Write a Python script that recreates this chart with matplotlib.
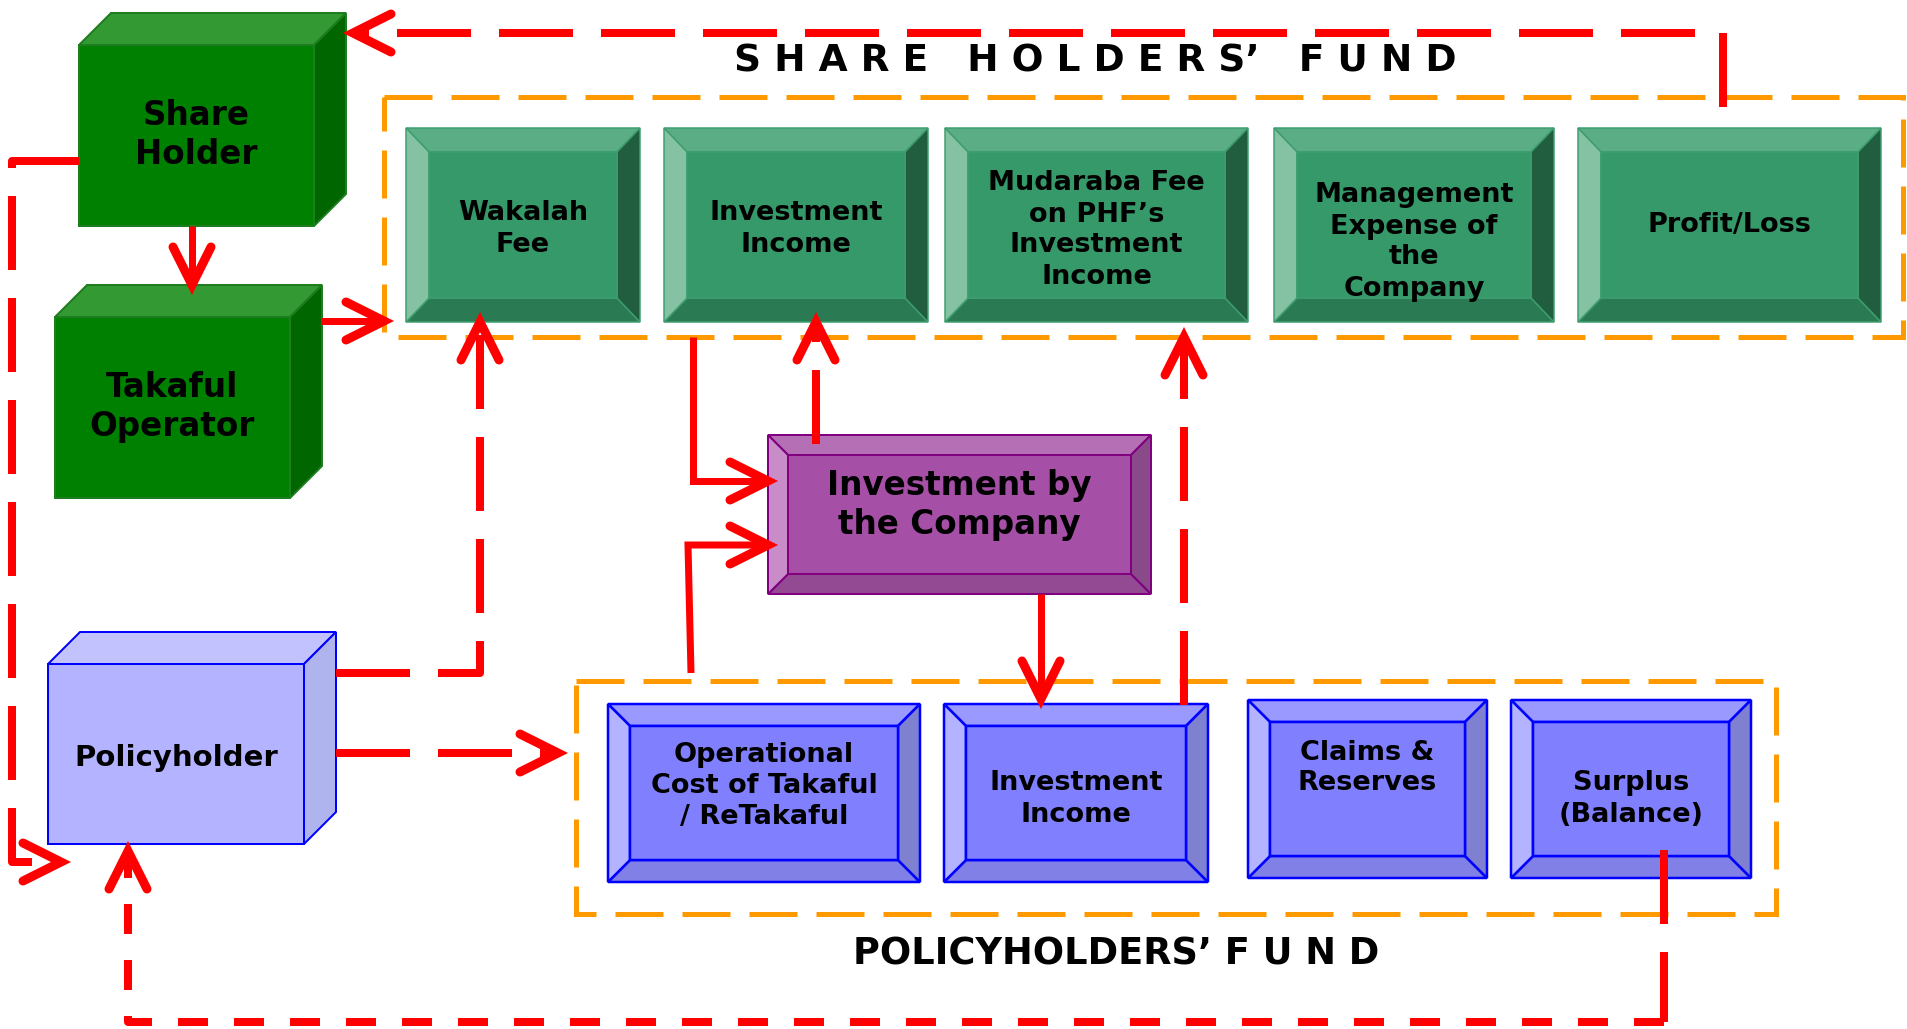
import numpy as np
import matplotlib.pyplot as plt
from matplotlib.patches import Polygon, Rectangle

plt.rcParams['font.family'] = ['DejaVu Sans']
plt.rcParams['lines.scale_dashes'] = False

W, H = 1907, 1029
PX = 0.72  # points per pixel at dpi 100

# text content
cube_labels = ["Share\nHolder", "Takaful\nOperator", "Policyholder"]
shf_labels = ["Wakalah\nFee", "Investment\nIncome", "Mudaraba Fee\non PHF’s\nInvestment\nIncome",
              "Management\nExpense of\nthe\nCompany", "Profit/Loss"]
phf_labels = ["Operational\nCost of Takaful\n/ ReTakaful", "Investment\nIncome", "Claims &\nReserves",
              "Surplus\n(Balance)"]
centre_label = "Investment by\nthe Company"
shf_title = "S H A R E   H O L D E R S’   F U N D"
phf_title = "POLICYHOLDERS’ F U N D"

# layout (pixels, y down)
cube_boxes = [(79, 45, 314, 226), (55, 317, 290, 498), (48, 664, 304, 844)]
cube_text_y = [135, 407, 758]
cube_fonts = [23.5, 23.5, 21]
cube_depth = 32
green_cube = ("#008000", "#339933", "#006600", "#1e7d1e")
blue_cube = ("#b3b3ff", "#c2c2ff", "#b0b4ee", "#0000ff")
cube_styles = [green_cube, green_cube, blue_cube]

shf_x = [(406, 640), (664, 928), (945, 1248), (1274, 1554), (1578, 1881)]
shf_y = (128, 322)
shf_text_y = [229, 229, 230, 242, 225]

phf_boxes = [(608, 704, 920, 882), (944, 704, 1208, 882), (1248, 700, 1487, 878), (1511, 700, 1751, 878)]
phf_text_y = [786, 799, 768, 799]

centre_box = (768, 435, 1151, 594)

green_bevel = dict(face="#35996a", top="#5aad84", bottom="#2a7a53", left="#85c1a3", right="#215e40", edge="#3d9e6e")
blue_bevel = dict(face="#8080ff", top="#9999ff", bottom="#8080e6", left="#b3b3ff", right="#8080d0", edge="#0000ff")
purple_bevel = dict(face="#a64fa6", top="#b570b5", bottom="#934a93", left="#c88cc8", right="#8a4a8a", edge="#800080")

solid_paths = [
    [(192, 226), (192, 285)],
    [(321, 321), (384, 321)],
    [(693, 337), (693, 481), (768, 481)],
    [(691, 673), (688, 545), (768, 545)],
    [(1041, 594), (1041, 699)],
]
dashed_paths = [
    [(1723, 107), (1723, 33), (353, 33)],
    [(79, 161), (12, 161), (12, 862), (61, 862)],
    [(336, 673), (480, 673), (480, 322)],
    [(336, 753), (558, 753)],
    [(816, 444), (816, 322)],
    [(1184, 705), (1184, 337)],
]
red = "#ff0000"
orange = "#ff9900"

fig = plt.figure(figsize=(W / 100, H / 100), dpi=100)
ax = fig.add_axes([0, 0, 1, 1])
ax.set_xlim(0, W)
ax.set_ylim(H, 0)
ax.axis("off")


def cube(x0, y0, x1, y1, d, cols):
    front, top, side, edge = cols
    kw = dict(edgecolor=edge, linewidth=2 * PX, joinstyle="miter", zorder=2)
    ax.add_patch(Polygon([(x0, y0), (x1, y0), (x1 + d, y0 - d), (x0 + d, y0 - d)], facecolor=top, **kw))
    ax.add_patch(Polygon([(x1, y0), (x1 + d, y0 - d), (x1 + d, y1 - d), (x1, y1)], facecolor=side, **kw))
    ax.add_patch(Rectangle((x0, y0), x1 - x0, y1 - y0, facecolor=front, **kw))


def bevel(x0, y0, x1, y1, bx, by, st, lw=1.5):
    ix0, iy0, ix1, iy1 = x0 + bx, y0 + by, x1 - bx, y1 - by
    kw = dict(edgecolor=st["edge"], linewidth=lw * PX, zorder=2)
    ax.add_patch(Polygon([(x0, y0), (x1, y0), (ix1, iy0), (ix0, iy0)], facecolor=st["top"], **kw))
    ax.add_patch(Polygon([(x0, y1), (x1, y1), (ix1, iy1), (ix0, iy1)], facecolor=st["bottom"], **kw))
    ax.add_patch(Polygon([(x0, y0), (ix0, iy0), (ix0, iy1), (x0, y1)], facecolor=st["left"], **kw))
    ax.add_patch(Polygon([(x1, y0), (ix1, iy0), (ix1, iy1), (x1, y1)], facecolor=st["right"], **kw))
    ax.add_patch(Rectangle((ix0, iy0), ix1 - ix0, iy1 - iy0, facecolor=st["face"], **kw))


def label(x, y, s, size):
    ax.text(x, y, s, ha="center", va="center", fontsize=size, fontweight="bold",
            linespacing=1.25, color="black", zorder=5)


def red_path(pts, style="-", arrow=True, lw=8):
    xs, ys = zip(*pts)
    ax.plot(xs, ys, color=red, lw=lw * PX, ls=style, zorder=4, solid_capstyle="butt",
            dash_capstyle="butt", solid_joinstyle="miter")
    if arrow:
        p = np.array(pts[-1], float)
        q = np.array(pts[-2], float)
        d = (p - q) / np.hypot(*(p - q))
        n = np.array([-d[1], d[0]])
        a1 = p - 38 * d + 19 * n
        a2 = p - 38 * d - 19 * n
        ax.plot([a1[0], p[0], a2[0]], [a1[1], p[1], a2[1]], color=red, lw=9 * PX,
                solid_capstyle="round", solid_joinstyle="miter", zorder=4)


# orange fund boxes
for (x0, y0, x1, y1) in [(384, 97, 1903, 337), (576, 681, 1776, 914)]:
    r = Rectangle((x0, y0), x1 - x0, y1 - y0, fill=False, edgecolor=orange, linewidth=5 * PX,
                  linestyle=(0, (48 * PX, 19 * PX)), zorder=1)
    ax.add_patch(r)

for (x0, y0, x1, y1), s, ty, fs, st in zip(cube_boxes, cube_labels, cube_text_y, cube_fonts, cube_styles):
    cube(x0, y0, x1, y1, cube_depth, st)
    label((x0 + x1) / 2, ty, s, fs)

for (x0, x1), s, ty in zip(shf_x, shf_labels, shf_text_y):
    bevel(x0, shf_y[0], x1, shf_y[1], 23, 24, green_bevel)
    label((x0 + x1) / 2, ty, s, 19.5)

for (x0, y0, x1, y1), s, ty in zip(phf_boxes, phf_labels, phf_text_y):
    bevel(x0, y0, x1, y1, 22, 22, blue_bevel, lw=2.5)
    label((x0 + x1) / 2, ty, s, 19.5)

bevel(*centre_box, 20, 20, purple_bevel, lw=2)
label((centre_box[0] + centre_box[2]) / 2, 505, centre_label, 23.5)

ax.text(1095, 62, shf_title, ha="center", va="center", fontsize=27, fontweight="bold", zorder=5)
ax.text(1116, 954, phf_title, ha="center", va="center", fontsize=26.5, fontweight="bold", zorder=5)

long_dash = (0, (74 * PX, 28 * PX))
short_dash = (0, (30 * PX, 26 * PX))
for pts in solid_paths:
    red_path(pts, lw=7)
for pts in dashed_paths:
    red_path(pts, style=long_dash)
red_path([(1664, 850), (1664, 1022)], style=long_dash, arrow=False)
red_path([(1664, 1022), (128, 1022), (128, 851)], style=short_dash)

fig.savefig("out.png", dpi=100)
